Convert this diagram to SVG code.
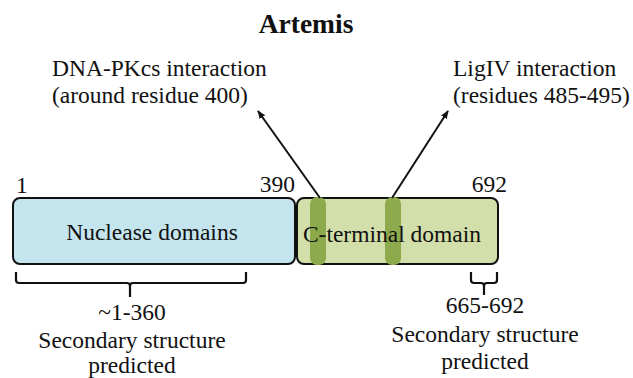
<svg xmlns="http://www.w3.org/2000/svg" width="633" height="378" viewBox="0 0 633 378">
<defs>
<style>
text{font-family:"Liberation Serif","Times New Roman",serif;fill:#111;font-size:23.5px}
.title{font-weight:bold;font-size:27.5px}
.box{stroke:#111;stroke-width:2}
.band{fill:#8dab4c}
.conn{stroke:#111;stroke-width:2;fill:none}
.brace{stroke:#111;stroke-width:2.2;fill:none;stroke-linejoin:round}
</style>
<marker id="ah" viewBox="0 0 10 10" refX="9" refY="5" markerWidth="4.2" markerHeight="4.2" orient="auto" markerUnits="strokeWidth">
<path d="M0,1 L10,5 L0,9 z" fill="#111"/>
</marker>
</defs>
<rect width="633" height="378" fill="#fff"/>
<text class="title" x="306" y="33" text-anchor="middle">Artemis</text>

<g id="nuclease">
<rect class="box" x="13" y="198" width="282" height="66" rx="7" fill="#c5e5ee"/>
<text x="152" y="240" text-anchor="middle">Nuclease domains</text>
<text x="16" y="193">1</text>
<text x="295" y="192" text-anchor="end">390</text>
</g>

<g id="cterminal">
<rect class="box" x="297" y="198" width="201" height="66" rx="7" fill="#d3dfaa"/>
<rect class="band" x="310" y="197" width="16" height="68" rx="7"/>
<rect class="band" x="385" y="197" width="16" height="68" rx="7"/>
<text x="392" y="242" text-anchor="middle">C-terminal domain</text>
<text x="507" y="192" text-anchor="end">692</text>
</g>

<g id="dnapkcs">
<text x="52" y="76">DNA-PKcs interaction</text>
<text x="52" y="103">(around residue 400)</text>
</g>

<g id="ligiv">
<text x="453" y="76">LigIV interaction</text>
<text x="453" y="103">(residues 485-495)</text>
</g>

<g id="ss-left">
<text x="132" y="320" text-anchor="middle">~1-360</text>
<text x="132" y="348" text-anchor="middle">Secondary structure</text>
<text x="132" y="373" text-anchor="middle">predicted</text>
</g>

<g id="ss-right">
<text x="485" y="313" text-anchor="middle">665-692</text>
<text x="485" y="342" text-anchor="middle">Secondary structure</text>
<text x="485" y="369" text-anchor="middle">predicted</text>
</g>

<g id="connectors">
<line class="conn" x1="320" y1="198" x2="258" y2="111" marker-end="url(#ah)"/>
<line class="conn" x1="392" y1="198" x2="448" y2="111" marker-end="url(#ah)"/>
<path class="brace" d="M16,272 L16,280 Q16,283 19,283 L127,283 Q130,283 130,286 L130,297 M130,286 Q130,283 133,283 L243,283 Q246,283 246,280 L246,272"/>
<path class="brace" d="M471,272 L471,280 Q471,283 474,283 L481,283 Q484,283 484,286 L484,295 M484,286 Q484,283 487,283 L494,283 Q497,283 497,280 L497,272"/>
</g>
</svg>
